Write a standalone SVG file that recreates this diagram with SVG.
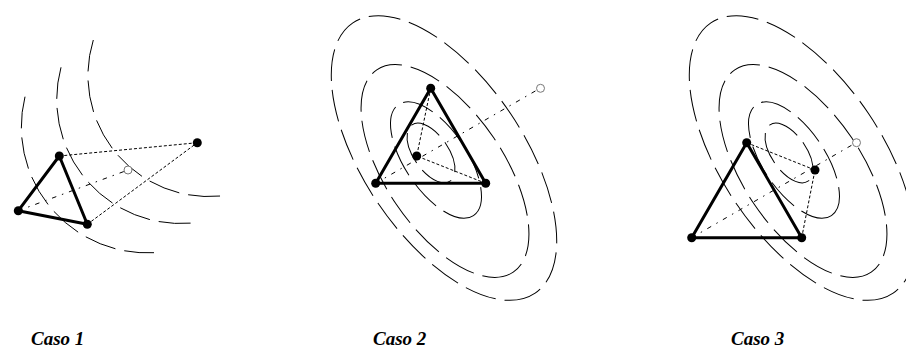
<svg xmlns="http://www.w3.org/2000/svg" width="906" height="351" viewBox="0 0 906 351">
<style>
.c{fill:none;stroke:#000;stroke-width:1;stroke-dasharray:32 9}
.tri{fill:none;stroke:#000;stroke-width:3;stroke-linejoin:round}
.dot{fill:none;stroke:#000;stroke-width:1;stroke-dasharray:3 2}
.dd{fill:none;stroke:#000;stroke-width:1;stroke-dasharray:4.5 6 1.5 6}
.pt{fill:#000}
.op{fill:#fff;stroke:#777;stroke-width:1}
.lab{font-family:"Liberation Serif",serif;font-weight:bold;font-style:italic;font-size:19px;fill:#000}
</style>
<rect width="906" height="351" fill="#fff"/>
<defs>
<g id="contours">
<ellipse class="c" cx="444" cy="158" rx="163" ry="80" transform="rotate(56 444 158)"/>
<ellipse class="c" cx="445" cy="171" rx="122" ry="59" transform="rotate(56 445 171)"/>
<ellipse class="c" cx="436" cy="160" rx="67" ry="31" transform="rotate(56 436 160)"/>
<ellipse class="c" cx="431" cy="153" rx="34" ry="17.5" transform="rotate(56 431 153)"/>
</g>
</defs>
<g id="contours-1">
<path class="c" d="M93.3,40 A121,121 0 0 0 223.3,195.7"/>
<path class="c" d="M61,67.3 A124,124 0 0 0 195,222.7"/>
<path class="c" d="M25,96.7 A126,126 0 0 0 154,252.7"/>
</g>
<g id="contours-2"><use href="#contours"/></g>
<g id="contours-3"><use href="#contours" transform="translate(358 0)"/></g>
<g id="connectors">
<line class="dot" x1="59.3" y1="156" x2="197.3" y2="142.7"/>
<line class="dot" x1="87.3" y1="224.3" x2="197.3" y2="142.7"/>
<line class="dd" x1="18.3" y1="210.7" x2="128" y2="170"/>
<line class="dot" x1="430.7" y1="88.3" x2="416.7" y2="156"/>
<line class="dot" x1="485.7" y1="183.3" x2="416.7" y2="156"/>
<line class="dd" x1="375.7" y1="183.3" x2="540" y2="88.3"/>
<line class="dot" x1="746.7" y1="142.7" x2="815" y2="170"/>
<line class="dot" x1="801.7" y1="237.7" x2="815" y2="170"/>
<line class="dd" x1="691.7" y1="237.7" x2="856" y2="142.7"/>
</g>
<g id="simplex-1"><polygon class="tri" points="59.3,156 18.3,210.7 87.3,224.3"/></g>
<g id="simplex-2"><polygon class="tri" points="430.7,88.3 375.7,183.3 485.7,183.3"/></g>
<g id="simplex-3"><polygon class="tri" points="746.7,142.7 691.7,237.7 801.7,237.7"/></g>
<g id="points-1">
<circle class="pt" cx="59.3" cy="156" r="4.5"/>
<circle class="pt" cx="18.3" cy="210.7" r="4.5"/>
<circle class="pt" cx="87.3" cy="224.3" r="4.5"/>
<circle class="pt" cx="197.3" cy="142.7" r="4.5"/>
<circle class="op" cx="128" cy="170" r="4"/>
</g>
<g id="points-2">
<circle class="pt" cx="430.7" cy="88.3" r="4.5"/>
<circle class="pt" cx="375.7" cy="183.3" r="4.5"/>
<circle class="pt" cx="485.7" cy="183.3" r="4.5"/>
<circle class="pt" cx="416.7" cy="156" r="4.5"/>
<circle class="op" cx="540.5" cy="88.3" r="4"/>
</g>
<g id="points-3">
<circle class="pt" cx="746.7" cy="142.7" r="4.5"/>
<circle class="pt" cx="691.7" cy="237.7" r="4.5"/>
<circle class="pt" cx="801.7" cy="237.7" r="4.5"/>
<circle class="pt" cx="815" cy="170" r="4.5"/>
<circle class="op" cx="856.5" cy="142.7" r="4"/>
</g>
<g id="labels">
<text class="lab" x="31" y="345">Caso 1</text>
<text class="lab" x="373" y="345">Caso 2</text>
<text class="lab" x="731" y="345">Caso 3</text>
</g>
</svg>
